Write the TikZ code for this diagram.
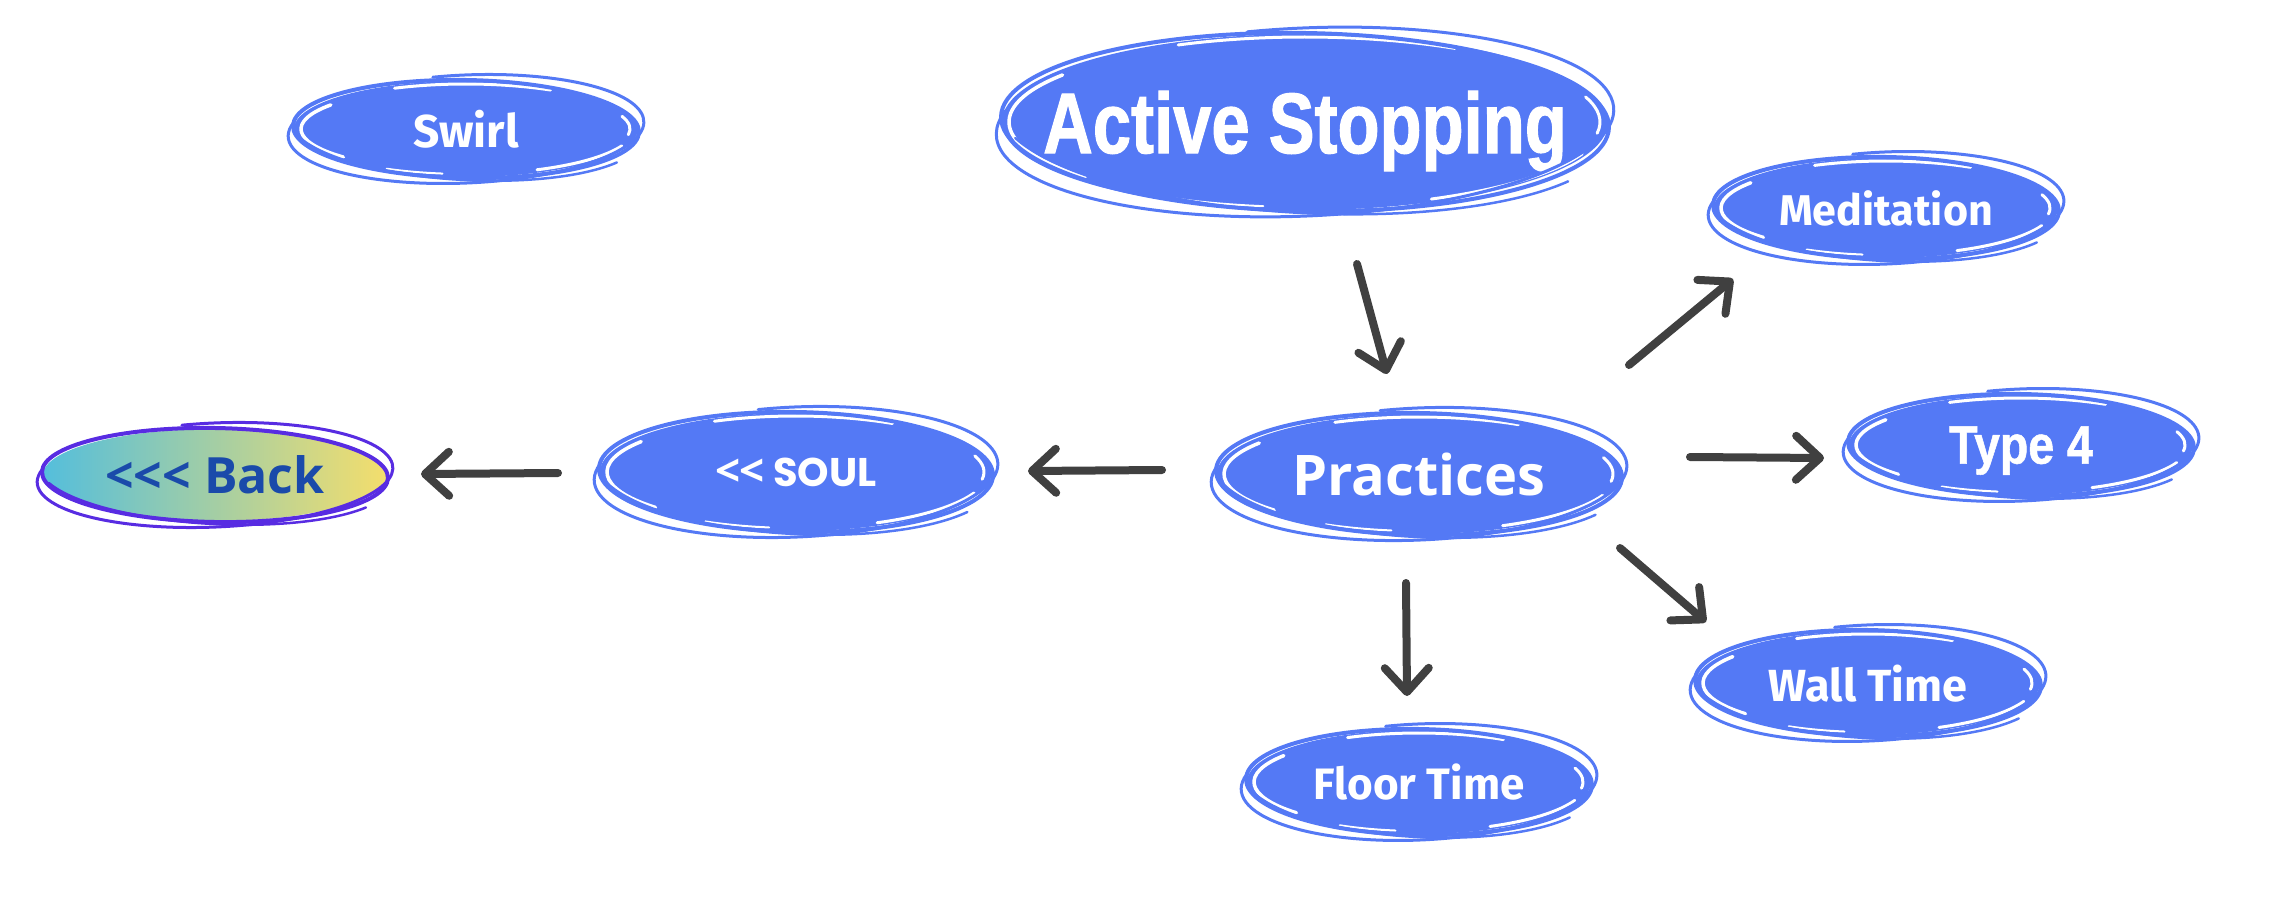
\documentclass[tikz,border=0pt]{standalone}
\usepackage{fontspec}
\usetikzlibrary{shapes.geometric,arrows.meta}
\newfontfamily\fira{Fira Sans}[BoldFont={Fira Sans Bold}]
\newfontfamily\opens{Open Sans}
\newfontfamily\pop{Poppins}
\newfontfamily\liberc{Liberation Sans}[FakeStretch=0.8,FakeBold=1.2]
\newfontfamily\liberd{Liberation Sans}[FakeStretch=0.86,FakeBold=1]
\definecolor{bubfill}{RGB}{84,121,245}
\definecolor{arrowc}{RGB}{64,64,64}
\definecolor{backring}{RGB}{88,44,226}
\definecolor{backl}{RGB}{84,190,220}
\definecolor{backr}{RGB}{244,222,108}
\definecolor{backtxt}{RGB}{26,74,170}
\tikzset{
  bub/.style={ellipse, fill=bubfill, inner xsep=-90pt, inner ysep=-20pt, text depth=0pt, text=white},
  ring/.style={draw=bubfill, line width=4pt, line cap=round},
  gapline/.style={draw=white, line width=3pt, line cap=round},
  arr/.style={draw=arrowc, line width=8pt, line cap=round, line join=round,
    -{Straight Barb[length=24pt,width=44pt,round]}},
}
% decorative sketch strokes around a bubble: [colour] cx, cy, rx, ry
\newcommand\sketchring[5][bubfill]{%
  \begin{scope}[shift={(#2,#3)}]
    \draw[ring, draw=#1, rotate=-1] (0,0) ellipse[x radius=#4+1, y radius=#5+1];
    \draw[ring, draw=#1, line width=3pt, rotate=2.5]
      (100:#4+6 and #5+6) arc[start angle=100, end angle=-195, x radius=#4+6, y radius=#5+6];
    \draw[ring, draw=#1, line width=2.5pt, rotate=-3]
      (200:#4+4 and #5+3) arc[start angle=200, end angle=330, x radius=#4+4, y radius=#5+3];
  \end{scope}}
\newcommand\gaps[4]{%
  \begin{scope}[shift={(#1,#2)}]
    \draw[gapline, line width=3.5pt] (145:#3-7 and #4-6) arc[start angle=145, end angle=222, x radius=#3-7, y radius=#4-6];
    \draw[gapline] (115:#3-3 and #4-3) arc[start angle=115, end angle=60, x radius=#3-3, y radius=#4-3];
    \draw[gapline] (295:#3-4 and #4-3) arc[start angle=295, end angle=338, x radius=#3-4, y radius=#4-3];
    \draw[gapline] (352:#3-8 and #4-7) arc[start angle=352, end angle=378, x radius=#3-8, y radius=#4-7];
    \draw[gapline, line width=2pt] (242:#3-3 and #4-3) arc[start angle=242, end angle=262, x radius=#3-3, y radius=#4-3];
  \end{scope}}
\begin{document}
\begin{tikzpicture}[x=1pt,y=1pt]
\useasboundingbox (0,0) rectangle (2284,-904);

% bubbles
\node[bub, minimum width=344, minimum height=96, font=\fira\bfseries\fontsize{46}{50}\selectfont] (swirl) at (466,-129) {Swirl};
\gaps{466}{-129}{172}{48}\sketchring{466}{-129}{172}{48}

\node[bub, minimum width=606, minimum height=176, font=\liberc\bfseries\fontsize{86}{90}\selectfont] (act) at (1305,-122) {Active Stopping};
\gaps{1305}{-122}{303}{88}\sketchring{1305}{-122}{303}{88}

\node[bub, minimum width=344, minimum height=100, font=\fira\bfseries\fontsize{43}{48}\selectfont] (med) at (1886,-208) {Meditation};
\gaps{1886}{-208}{172}{50}\sketchring{1886}{-208}{172}{50}

\node[ellipse, inner xsep=-90pt, inner ysep=-20pt, text depth=0pt, left color=backl, right color=backr, minimum width=344, minimum height=92,
  text=backtxt, font=\opens\bfseries\fontsize{50}{54}\selectfont] (back) at (215,-475) {<\kern0pt<\kern0pt< Back};
\sketchring[backring]{215}{-475}{172}{46}

\node[bub, minimum width=392, minimum height=118, font=\pop\bfseries\fontsize{40}{44}\selectfont] (soul) at (796,-472) {{\opens\bfseries\fontsize{44}{48}\selectfont <\kern-1pt<} SOUL};
\gaps{796}{-472}{196}{59}\sketchring{796}{-472}{196}{59}

\node[bub, minimum width=404, minimum height=120, font=\opens\bfseries\fontsize{56}{60}\selectfont] (prac) at (1419,-474) {Practices};
\gaps{1419}{-474}{202}{60}\sketchring{1419}{-474}{202}{60}

\node[bub, minimum width=344, minimum height=100, font=\liberd\bfseries\fontsize{54}{58}\selectfont] (type) at (2021,-445) {Type 4};
\gaps{2021}{-445}{172}{50}\sketchring{2021}{-445}{172}{50}

\node[bub, minimum width=344, minimum height=104, font=\fira\bfseries\fontsize{45}{50}\selectfont] (wall) at (1868,-683) {Wall Time};
\gaps{1868}{-683}{172}{52}\sketchring{1868}{-683}{172}{52}

\node[bub, minimum width=344, minimum height=104, font=\fira\bfseries\fontsize{44}{48}\selectfont] (floor) at (1419,-782) {Floor Time};
\gaps{1419}{-782}{172}{52}\sketchring{1419}{-782}{172}{52}

% connector end points
\coordinate (a1s) at (1357,-264); \coordinate (a1e) at (1387,-374);
\coordinate (a2s) at (1629,-365); \coordinate (a2e) at (1733,-279);
\coordinate (a3s) at (1690,-457); \coordinate (a3e) at (1824,-458);
\coordinate (a4s) at (1620,-548); \coordinate (a4e) at (1706,-622);
\coordinate (a5s) at (1406,-583); \coordinate (a5e) at (1407,-696);
\coordinate (a6s) at (1162,-470); \coordinate (a6e) at (1028,-471);
\coordinate (a7s) at (558,-473);  \coordinate (a7e) at (421,-474);

\draw[arr] (a1s) -- (a1e);
\draw[arr] (a2s) -- (a2e);
\draw[arr] (a3s) -- (a3e);
\draw[arr] (a4s) -- (a4e);
\draw[arr] (a5s) -- (a5e);
\draw[arr] (a6s) -- (a6e);
\draw[arr] (a7s) -- (a7e);
\end{tikzpicture}
\end{document}
